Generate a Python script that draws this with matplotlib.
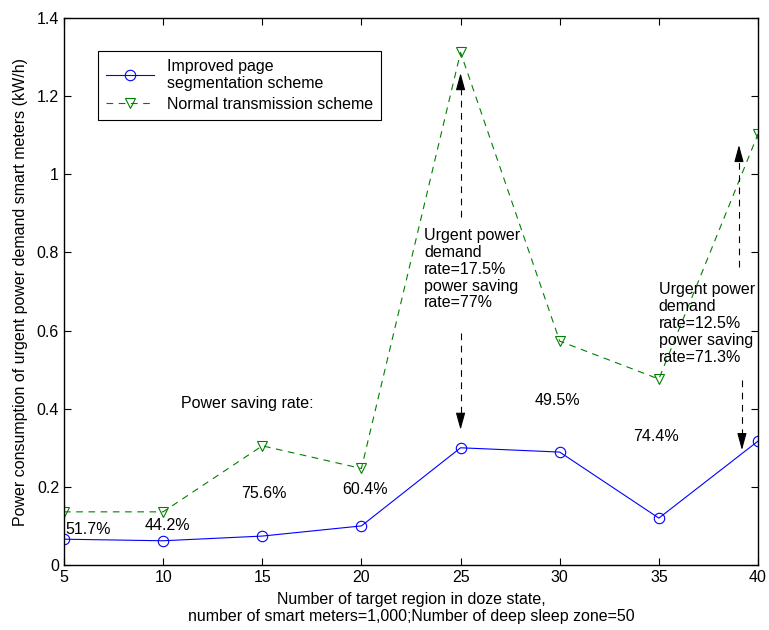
'''Power consumption of urgent power demand smart meters vs. target regions in doze state.'''

import matplotlib
matplotlib.use('Agg')
import matplotlib.pyplot as plt
from matplotlib.ticker import FuncFormatter

plt.rcParams['font.family'] = ['Liberation Sans', 'DejaVu Sans']
plt.rcParams['font.size'] = 11.5

# number of target regions in doze state
regions = [5, 10, 15, 20, 25, 30, 35, 40]
# power consumption (kW/h)
improved = [0.066, 0.062, 0.074, 0.100, 0.300, 0.289, 0.120, 0.317]
normal = [0.136, 0.136, 0.305, 0.247, 1.312, 0.573, 0.476, 1.103]

saving_labels = ['51.7%', '44.2%', '75.6%', '60.4%', '49.5%', '74.4%']
saving_pos = [(5.05, 0.09, 'left'), (10.2, 0.10, 'center'), (15.1, 0.183, 'center'),
              (20.2, 0.192, 'center'), (29.9, 0.422, 'center'), (34.85, 0.328, 'center')]

note_25 = 'Urgent power\ndemand\nrate=17.5%\npower saving\nrate=77%'
note_40 = 'Urgent power\ndemand\nrate=12.5%\npower saving\nrate=71.3%'

fig = plt.figure(figsize=(7.69, 6.3), dpi=100)
ax = fig.add_axes([0.0832, 0.1032, 0.9025, 0.8682])

ax.plot(regions, improved, color='#0000ff', lw=0.8, marker='o', ms=7.5,
        mfc='none', mec='#0000ff', mew=0.8, label='Improved page\nsegmentation scheme')
ax.plot(regions, normal, color='#008000', lw=0.8, ls=(0, (6, 5)), marker='v', ms=7.5,
        mfc='none', mec='#008000', mew=0.8, label='Normal transmission scheme')

ax.set_xlim(5, 40)
ax.set_ylim(0, 1.4)
ax.set_xticks(regions)
ax.set_yticks([0, 0.2, 0.4, 0.6, 0.8, 1.0, 1.2, 1.4])
ax.yaxis.set_major_formatter(FuncFormatter(lambda v, p: '%g' % v))
ax.tick_params(direction='in', top=True, right=True, length=5, width=0.8, labelsize=11.5)
for s in ax.spines.values():
    s.set_linewidth(1.0)

ax.set_xlabel('Number of target region in doze state,\n'
              'number of smart meters=1,000;Number of deep sleep zone=50', labelpad=5,
              linespacing=1.15)
ax.set_ylabel('Power consumption of urgent power demand smart meters (kW/h)', labelpad=6)

# power saving rates
ax.text(14.23, 0.414, 'Power saving rate:', ha='center', va='center')
for lab, (x, y, h) in zip(saving_labels, saving_pos):
    ax.text(x, y, lab, ha=h, va='center')

ax.text(23.15, 0.862, note_25, ha='left', va='top', linespacing=1.15)
ax.text(35.0, 0.724, note_40, ha='left', va='top', linespacing=1.17)


def dashed_arrow(x, y0, y1):
    # dashed shaft ending in a filled head at y1
    step = 0.03 if y1 > y0 else -0.03
    ax.plot([x, x], [y0, y1 - step], color='k', lw=0.8, ls=(0, (6, 5)))
    ax.annotate('', xy=(x, y1), xytext=(x, y1 - step),
                arrowprops=dict(arrowstyle='-|>,head_length=0.8,head_width=0.22',
                                color='k', lw=0.8, mutation_scale=13,
                                shrinkA=0, shrinkB=0))


dashed_arrow(25, 0.891, 1.259)
dashed_arrow(25, 0.594, 0.346)
dashed_arrow(39.04, 0.763, 1.075)
dashed_arrow(39.19, 0.473, 0.294)

leg = ax.legend(loc='upper left', bbox_to_anchor=(0.049, 0.94), borderaxespad=0,
                fancybox=False, framealpha=1, edgecolor='k', handlelength=3,
                labelspacing=0.35, borderpad=0.5)
leg.get_frame().set_linewidth(0.8)

fig.savefig('out.png', dpi=100)
